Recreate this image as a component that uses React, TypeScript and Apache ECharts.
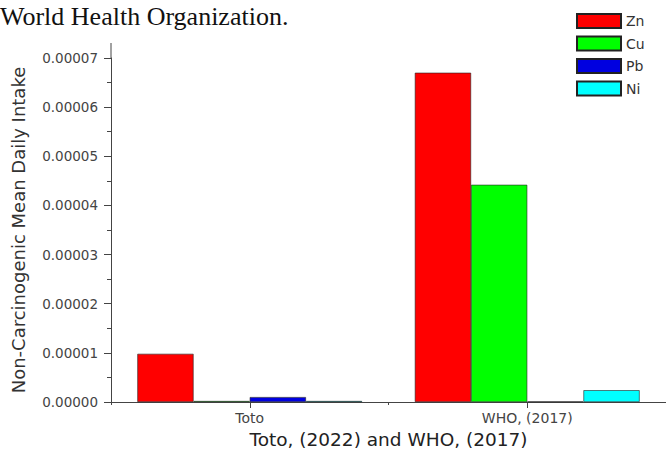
import React, { useEffect, useRef } from "react";
import * as echarts from "echarts";

const categories = ["Toto", "WHO, (2017)"];
const seriesNames = ["Zn", "Cu", "Pb", "Ni"];
const znValues = [0.0000098, 0.000067];
const cuValues = [0.0000002, 0.0000442];
const pbValues = [0.000001, 0.0000001];
const niValues = [0.0000002, 0.0000024];
const colors = ["#ff0000", "#00ff00", "#0000e0", "#00ffff"];
const yMin = 0;
const yMax = 0.00007;
const yInterval = 0.00001;

export default function App() {
  const ref = useRef<HTMLDivElement>(null);
  useEffect(() => {
    if (!ref.current) return;
    const chart = echarts.init(ref.current, null, { renderer: "svg" });
    const values = [znValues, cuValues, pbValues, niValues];
    const font = "DejaVu Sans";
    chart.setOption({
      animation: false,
      backgroundColor: "#ffffff",
      grid: { left: 111, top: 58, bottom: 52, right: -9, containLabel: false },
      legend: {
        orient: "vertical",
        left: 576,
        top: 13,
        padding: 0,
        itemWidth: 44,
        itemHeight: 14,
        itemGap: 6.5,
        icon: "rect",
        data: seriesNames,
        textStyle: { fontFamily: font, fontSize: 14, color: "#333" },
      },
      graphic: [
        {
          type: "text",
          x: 0,
          y: 6,
          style: {
            text: "World Health Organization.",
            font: '26px "Liberation Serif"',
            lineHeight: 20,
            verticalAlign: "top",
            fill: "#111",
          },
        },
        {
          type: "line",
          shape: { x1: 111, y1: 43, x2: 111, y2: 58 },
          style: { stroke: "#444", lineWidth: 1 },
        },
      ],
      xAxis: [
        {
          type: "category",
          data: categories,
          position: "bottom",
          axisLine: { show: true, lineStyle: { color: "#444", width: 1 } },
          axisTick: { show: true, alignWithLabel: true, length: 6, lineStyle: { color: "#444" } },
          axisLabel: { fontFamily: font, fontSize: 14, color: "#444", margin: 9 },
          name: "Toto, (2022) and WHO, (2017)",
          nameLocation: "middle",
          nameGap: 26,
          nameTextStyle: { fontFamily: font, fontSize: 18.5, color: "#222" },
          splitLine: { show: false },
        },
        {
          type: "category",
          data: categories,
          position: "bottom",
          axisLine: { show: false },
          axisTick: { show: true, alignWithLabel: false, length: 3, lineStyle: { color: "#444" } },
          axisLabel: { show: false },
          splitLine: { show: false },
        },
      ],
      yAxis: {
        type: "value",
        min: yMin,
        max: yMax,
        interval: yInterval,
        axisLine: { show: true, lineStyle: { color: "#444", width: 1 } },
        axisTick: { show: true, length: 7, lineStyle: { color: "#444" } },
        minorTick: { show: true, splitNumber: 2, length: 4, lineStyle: { color: "#444" } },
        splitLine: { show: false },
        axisLabel: {
          fontFamily: font,
          fontSize: 13.5,
          color: "#444",
          margin: 13,
          formatter: (v: number) => v.toFixed(5),
        },
        name: "Non-Carcinogenic Mean Daily Intake",
        nameLocation: "middle",
        nameGap: 84,
        nameTextStyle: { fontFamily: font, fontSize: 18, color: "#333" },
      },
      series: seriesNames.map((name, i) => ({
        name,
        type: "bar",
        xAxisIndex: 0,
        data: values[i],
        barGap: "0%",
        barCategoryGap: "19%",
        itemStyle: { color: colors[i], borderColor: "#222", borderWidth: 0.6 },
      })),
    });
    return () => chart.dispose();
  }, []);
  return <div ref={ref} style={{ width: 666, height: 454, position: "absolute", left: 0, top: 0 }} />;
}
